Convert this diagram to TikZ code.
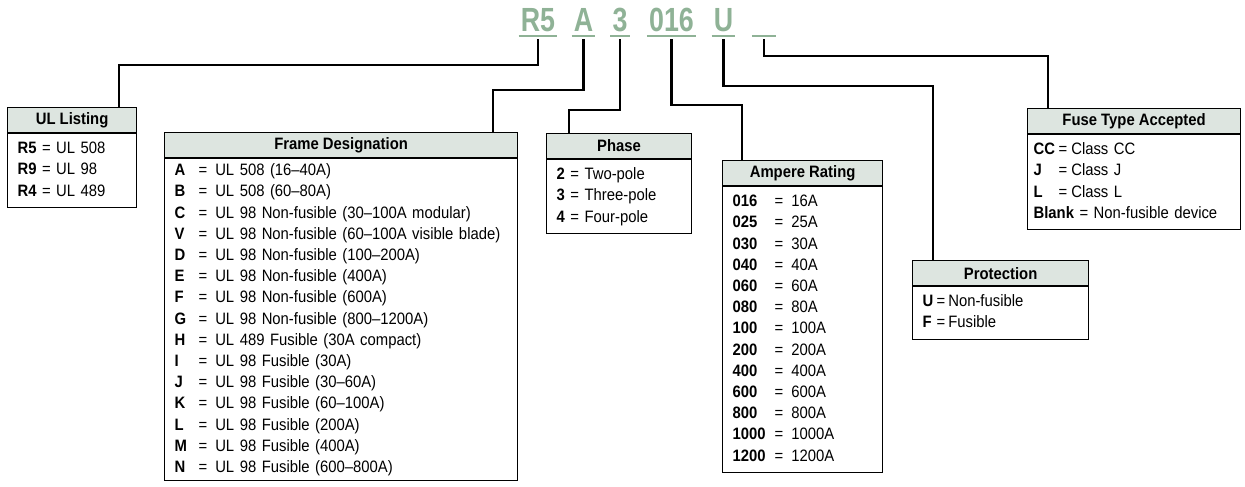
\documentclass[tikz,border=0pt]{standalone}
\usepackage{fontspec}
\usepackage{array}
\setmainfont[FakeStretch=0.9]{Liberation Sans}
\newfontfamily\codefont[FakeStretch=0.8]{Liberation Sans}
\usetikzlibrary{positioning}
\definecolor{codegreen}{HTML}{8FB296}
\definecolor{headfill}{HTML}{DDE5E0}
\tikzset{
  code/.style={anchor=base, inner xsep=2pt, inner ysep=4pt, text depth=0pt, text=codegreen,
    font=\codefont\fontsize{33.5}{36}\selectfont\bfseries},
  uline/.style={draw=codegreen, line width=2.5pt},
  wire/.style={line width=2.2pt},
  head/.style={draw, line width=1.2pt, fill=headfill, minimum width=#1, minimum height=25pt,
    inner sep=0pt, font=\fontsize{16.5}{19}\selectfont\bfseries},
  body/.style={draw, line width=1.2pt, text width=#1, inner xsep=10pt, inner ysep=5pt,
    align=left, font=\fontsize{16.5}{21.2}\selectfont}
}
\begin{document}
\begin{tikzpicture}[x=1pt,y=-1pt]
\useasboundingbox (0,0) rectangle (1245,487);
% catalogue number
\node[code] (cR5) at (538,32) {R5};
\node[code] (cA) at (583.5,32) {A};
\node[code] (c3) at (620,32) {3};
\node[code] (c016) at (671.5,32) {016};
\node[code] (cU) at (723.5,32) {U};
\node[code, minimum width=24pt] (cB) at (764,32) {};
\foreach \c in {cR5,cA,c3,c016,cU,cB}
  \draw[uline] (\c.south west) -- (\c.south east);
% boxes
\node[head=129pt, anchor=north west] (ulhead) at (7,107) {UL Listing};
\node[body=109pt, below=0pt of ulhead] (ulbody) {%
\begin{tabular}{@{}l@{}}
\textbf{R5} = UL 508\\
\textbf{R9} = UL 98\\
\textbf{R4} = UL 489
\end{tabular}};
\node[head=353pt, anchor=north west] (framehead) at (164,132) {Frame Designation};
\node[body=333pt, inner ysep=2pt, below=0pt of framehead] (framebody) {%
\begin{tabular}{@{}>{\bfseries}p{24pt}@{}l@{\hspace{8pt}}l@{}}
A & = & UL 508 (16--40A)\\
B & = & UL 508 (60--80A)\\
C & = & UL 98 Non-fusible (30--100A modular)\\
V & = & UL 98 Non-fusible (60--100A visible blade)\\
D & = & UL 98 Non-fusible (100--200A)\\
E & = & UL 98 Non-fusible (400A)\\
F & = & UL 98 Non-fusible (600A)\\
G & = & UL 98 Non-fusible (800--1200A)\\
H & = & UL 489 Fusible (30A compact)\\
I & = & UL 98 Fusible (30A)\\
J & = & UL 98 Fusible (30--60A)\\
K & = & UL 98 Fusible (60--100A)\\
L & = & UL 98 Fusible (200A)\\
M & = & UL 98 Fusible (400A)\\
N & = & UL 98 Fusible (600--800A)
\end{tabular}};
\node[head=145pt, anchor=north west] (phasehead) at (546,133) {Phase};
\node[body=125pt, below=0pt of phasehead] (phasebody) {%
\begin{tabular}{@{}l@{}}
\textbf{2} = Two-pole\\
\textbf{3} = Three-pole\\
\textbf{4} = Four-pole
\end{tabular}};
\node[head=160pt, anchor=north west] (amphead) at (722,160) {Ampere Rating};
\node[body=140pt, below=0pt of amphead] (ampbody) {%
\begin{tabular}{@{}>{\bfseries}p{42pt}@{}l@{\hspace{8pt}}l@{}}
016 & = & 16A\\
025 & = & 25A\\
030 & = & 30A\\
040 & = & 40A\\
060 & = & 60A\\
080 & = & 80A\\
100 & = & 100A\\
200 & = & 200A\\
400 & = & 400A\\
600 & = & 600A\\
800 & = & 800A\\
1000 & = & 1000A\\
1200 & = & 1200A
\end{tabular}};
\node[head=176pt, anchor=north west] (prothead) at (912,260) {Protection};
\node[body=156pt, below=0pt of prothead] (protbody) {%
\begin{tabular}{@{}>{\bfseries}p{14pt}@{}l@{\hspace{3pt}}l@{}}
U & = & Non-fusible\\
F & = & Fusible
\end{tabular}};
\node[head=213pt, anchor=north west] (fusehead) at (1027,108) {Fuse Type Accepted};
\node[body=201pt, inner xsep=6pt, below=0pt of fusehead] (fusebody) {%
\begin{tabular}{@{}>{\bfseries}p{25pt}@{}l@{\hspace{4pt}}l@{}}
CC & = & Class CC\\
J & = & Class J\\
L & = & Class L\\
\multicolumn{3}{@{}l@{}}{\textbf{Blank} = Non-fusible device}
\end{tabular}};
% connectors
\draw[wire] ([yshift=-3pt]cR5.south) -- ++(0,26) -| ([xshift=-18pt]ulhead.north east);
\draw[wire] ([yshift=-3pt]cA.south) -- ++(0,51) -| ([xshift=-25pt]framehead.north east);
\draw[wire] ([yshift=-3pt]c3.south) -- ++(0,71) -| ([xshift=23pt]phasehead.north west);
\draw[wire] ([yshift=-3pt]c016.south) -- ++(0,66) -| ([xshift=20pt]amphead.north west);
\draw[wire] ([yshift=-3pt]cU.south) -- ++(0,47) -| ([xshift=21pt]prothead.north west);
\draw[wire] ([yshift=-3pt]cB.south) -- ++(0,17) -| ([xshift=21pt]fusehead.north west);
\end{tikzpicture}
\end{document}
